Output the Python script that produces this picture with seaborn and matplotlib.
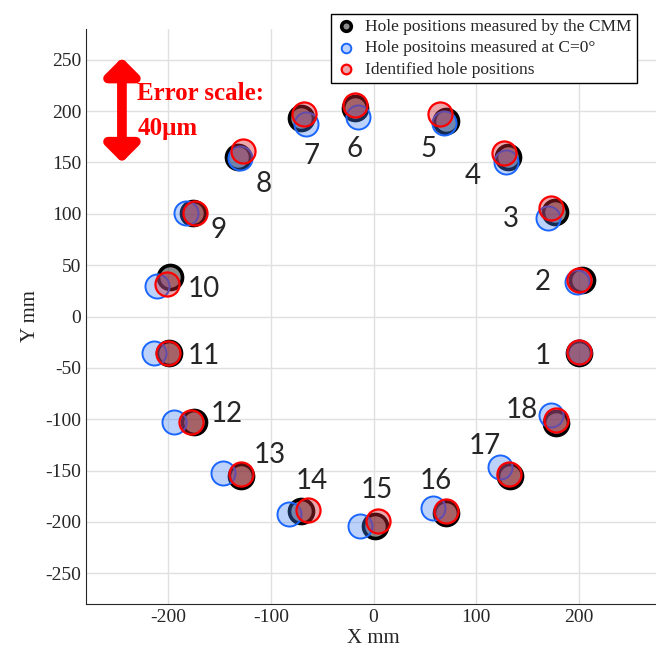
import pandas as pd
import matplotlib.pyplot as plt
import seaborn as sns
import numpy as np

sns.set_style("white")
plt.rcParams['font.family'] = ['Liberation Serif', 'DejaVu Sans']
plt.rcParams['axes.unicode_minus'] = False

# hole numbers
holes = list(range(1, 19))

# hole positions measured by the CMM (mm, errors magnified)
cmm_x = [200.0, 202.6, 176.6, 131.0, 70.9, -17.6, -70.6, -132.4, -175.6,
         -198.4, -199.0, -174.6, -129.0, -70.6, 1.0, 70.2, 132.7, 177.6]
cmm_y = [-35.5, 35.6, 102.0, 155.6, 190.3, 202.6, 193.5, 155.3, 100.7,
         38.8, -35.6, -102.6, -155.0, -189.9, -203.9, -190.9, -155.3, -103.6]

# hole positions measured at C=0
c0_x = [200.5, 198.4, 170.0, 128.8, 68.3, -15.3, -65.7, -130.0, -182.7,
        -210.4, -213.7, -194.0, -147.0, -82.0, -13.0, 57.9, 122.9, 173.3]
c0_y = [-35.0, 33.3, 96.4, 150.0, 188.7, 194.5, 187.0, 154.0, 100.7,
        30.0, -35.6, -103.2, -152.8, -192.2, -204.5, -186.7, -146.3, -96.1]

# identified hole positions
id_x = [200.5, 200.3, 172.4, 126.8, 65.0, -17.6, -68.0, -127.5, -173.7,
        -201.6, -199.7, -177.9, -129.0, -64.0, 4.2, 70.9, 132.0, 177.6]
id_y = [-35.0, 35.6, 105.5, 159.0, 196.8, 205.8, 196.8, 161.0, 100.7,
        31.7, -35.6, -103.2, -153.4, -188.9, -198.7, -189.9, -153.4, -101.0]

# where the hole numbers are written
lab_x = [165, 165, 134, 97, 54, -18, -60, -107, -151,
         -165, -165, -143, -101, -60, 3, 61, 108, 144]
lab_y = [-38, 34, 95, 137, 163, 163, 156, 129, 84,
         27, -38, -95, -135, -160, -169, -160, -126, -91]

cmm = pd.DataFrame({'x': cmm_x, 'y': cmm_y})
c0 = pd.DataFrame({'x': c0_x, 'y': c0_y})
ide = pd.DataFrame({'x': id_x, 'y': id_y})

fig = plt.figure(figsize=(6.56, 6.6), dpi=100)
ax = fig.add_axes([86/656, 56/660, 575/656, 575/660])

sns.scatterplot(data=cmm, x='x', y='y', ax=ax, s=300, color=(0, 0, 0, 0.45),
                edgecolor='black', linewidth=2.6, zorder=3,
                label='Hole positions measured by the CMM')
sns.scatterplot(data=c0, x='x', y='y', ax=ax, s=300, color=(0.25, 0.5, 0.95, 0.35),
                edgecolor=(0.1, 0.4, 1.0), linewidth=1.4, zorder=4,
                label='Hole positoins measured at C=0°')
sns.scatterplot(data=ide, x='x', y='y', ax=ax, s=300, color=(0.8, 0.15, 0.2, 0.4),
                edgecolor='red', linewidth=1.6, zorder=5,
                label='Identified hole positions')

for h, tx, ty in zip(holes, lab_x, lab_y):
    ax.text(tx, ty, str(h), fontsize=20, family='Lato', ha='center', va='center',
            zorder=6)

# error scale arrow
ax.annotate('', xy=(-245, 252), xytext=(-245, 150),
            arrowprops=dict(arrowstyle='<|-|>,head_width=1.0,head_length=1.0',
                            color='red', lw=7, shrinkA=0, shrinkB=0), zorder=6)
ax.text(-230, 217, 'Error scale:', color='red', fontsize=18, fontweight='bold',
        va='center', ha='left', zorder=6)
ax.text(-230, 183, '40μm', color='red', fontsize=18, fontweight='bold',
        va='center', ha='left', zorder=6)

ax.set_xlim(-280, 280)
ax.set_ylim(-280, 280)
ax.set_xticks([-200, -100, 0, 100, 200])
ax.set_yticks([-250, -200, -150, -100, -50, 0, 50, 100, 150, 200, 250])
ax.grid(True, color='#e0e0e0', linewidth=1)
ax.set_axisbelow(True)
ax.spines['top'].set_visible(False)
ax.spines['right'].set_visible(False)
ax.tick_params(direction='in', length=5, labelsize=14, width=1)
ax.set_xlabel('X mm', fontsize=15, labelpad=2)
ax.set_ylabel('Y mm', fontsize=15, labelpad=4)

ax.legend(loc='upper left', bbox_to_anchor=(322/656, 1 - 5/660),
          bbox_transform=fig.transFigure, fontsize=12.5, markerscale=0.4,
          frameon=True, fancybox=False, edgecolor='black', framealpha=1,
          borderpad=0.3, labelspacing=0.3, handlelength=1.2, handletextpad=0.5)

plt.savefig('out.png', dpi=100)
